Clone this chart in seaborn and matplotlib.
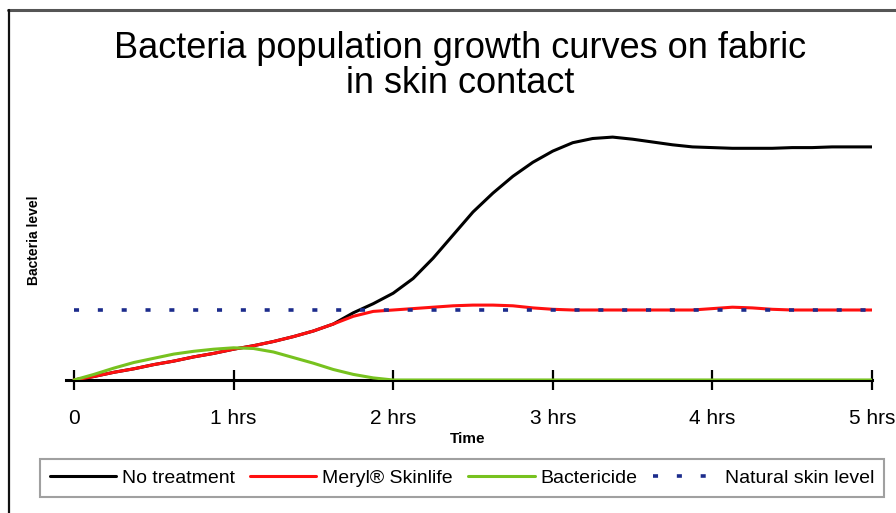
import numpy as np
import pandas as pd
import matplotlib
matplotlib.use("Agg")
import matplotlib.pyplot as plt
from matplotlib.lines import Line2D
import seaborn as sns

# hours after contact (read every 1/8 hour)
hours = [0, 0.125, 0.25, 0.375, 0.5, 0.625, 0.75, 0.875, 1.0, 1.125,
         1.25, 1.375, 1.5, 1.625, 1.75, 1.875, 2.0, 2.125, 2.25, 2.375,
         2.5, 2.625, 2.75, 2.875, 3.0, 3.125, 3.25, 3.375, 3.5, 3.625,
         3.75, 3.875, 4.0, 4.125, 4.25, 4.375, 4.5, 4.625, 4.75, 4.875, 5.0]

# bacteria level, relative to natural skin level (= 1)
no_treatment = [0, 0.05, 0.11, 0.16, 0.22, 0.27, 0.33, 0.38, 0.44, 0.49,
                0.55, 0.62, 0.70, 0.80, 0.96, 1.09, 1.24, 1.45, 1.74, 2.07,
                2.40, 2.67, 2.91, 3.11, 3.27, 3.39, 3.45, 3.47, 3.44, 3.40,
                3.36, 3.33, 3.32, 3.31, 3.31, 3.31, 3.32, 3.32, 3.33, 3.33, 3.33]
meryl = [0, 0.05, 0.11, 0.16, 0.22, 0.27, 0.33, 0.38, 0.44, 0.49,
         0.55, 0.62, 0.70, 0.80, 0.91, 0.98, 1.00, 1.02, 1.04, 1.06,
         1.07, 1.07, 1.06, 1.03, 1.01, 1.00, 1.00, 1.00, 1.00, 1.00,
         1.00, 1.00, 1.02, 1.04, 1.03, 1.01, 1.00, 1.00, 1.00, 1.00, 1.00]
bactericide = [0, 0.08, 0.17, 0.25, 0.31, 0.37, 0.41, 0.44, 0.46, 0.45,
               0.40, 0.32, 0.24, 0.15, 0.08, 0.03, 0.0, 0.0, 0.0, 0.0,
               0.0, 0.0, 0.0, 0.0, 0.0, 0.0, 0.0, 0.0, 0.0, 0.0,
               0.0, 0.0, 0.0, 0.0, 0.0, 0.0, 0.0, 0.0, 0.0, 0.0, 0.0]
natural_level = [1.0] * len(hours)

tick_hours = [0, 1, 2, 3, 4, 5]
tick_labels = ["0", "1 hrs", "2 hrs", "3 hrs", "4 hrs", "5 hrs"]

series_names = ["No treatment", "Meryl\u00ae Skinlife", "Bactericide", "Natural skin level"]
series_colors = ["#000000", "#ff1010", "#77c21f", "#1c2c8c"]

df = pd.DataFrame({
    "hours": hours * 4,
    "level": no_treatment + meryl + bactericide + natural_level,
    "series": np.repeat(series_names, len(hours)),
})

sns.set_style("white")
plt.rcParams["font.family"] = ["Liberation Sans", "DejaVu Sans"]
plt.rcParams["text.color"] = "black"
plt.rcParams["xtick.color"] = "black"

fig = plt.figure(figsize=(8.96, 5.13), dpi=100)
ax = fig.add_axes([66 / 896, 1 - 380 / 513, (872 - 66) / 896, 260 / 513])

for name, color in zip(series_names, series_colors):
    sub = df[df["series"] == name]
    if name == "Natural skin level":
        sns.lineplot(data=sub, x="hours", y="level", ax=ax, color=color,
                     linewidth=2.6, linestyle=(0, (1.4, 5.2)), label=name, zorder=4)
    else:
        sns.lineplot(data=sub, x="hours", y="level", ax=ax, color=color,
                     linewidth=2.2, label=name, zorder=3)

ax.set_xlim(-0.05, 5.0)
ax.set_ylim(0, 260 / 70)
for side in ["left", "top", "right"]:
    ax.spines[side].set_visible(False)
ax.spines["bottom"].set_linewidth(2.2)
ax.spines["bottom"].set_color("black")
ax.spines["bottom"].set_zorder(2)
ax.set_yticks([])
ax.set_xticks(tick_hours)
ax.set_xticklabels(tick_labels, fontsize=15)
ax.tick_params(axis="x", bottom=True, direction="inout", length=14, width=1.6,
               pad=14, color="black", labelcolor="black")
for t in ax.xaxis.get_major_ticks():
    t.tick1line.set_clip_on(False)

ax.set_xlabel("Time", fontsize=11, fontweight="bold", color="black")
ax.xaxis.set_label_coords((468 - 66) / (872 - 66), -(432 - 380) / 260)
ax.set_ylabel("Bacteria level", fontsize=10, fontweight="bold", color="black")
ax.yaxis.set_label_coords(-(66 - 41) / (872 - 66), (380 - 240) / 260)

fig.text(460 / 896, 1 - 66 / 513, "Bacteria population growth curves on fabric\nin skin contact",
         ha="center", va="center", fontsize=26, linespacing=1.02, color="black")

handles, labels = ax.get_legend_handles_labels()
ax.get_legend().remove()
leg = fig.legend(handles, labels, ncol=4, loc="center",
                 bbox_to_anchor=(462 / 896, 1 - 478 / 513),
                 prop={"size": 14},
                 handlelength=3.4, handletextpad=0.3, columnspacing=0.8,
                 fancybox=False, borderpad=0.5, frameon=True)
leg.get_frame().set_edgecolor("#888888")
leg.get_frame().set_linewidth(1.5)

# chart frame, top and left edges only
fig.add_artist(Line2D([8 / 896, 1], [1 - 10 / 513] * 2, color="#555555", lw=2.2,
                      transform=fig.transFigure))
fig.add_artist(Line2D([9 / 896] * 2, [0, 1 - 10 / 513], color="#111111", lw=1.6,
                      transform=fig.transFigure))

fig.savefig("out.png", dpi=100)
